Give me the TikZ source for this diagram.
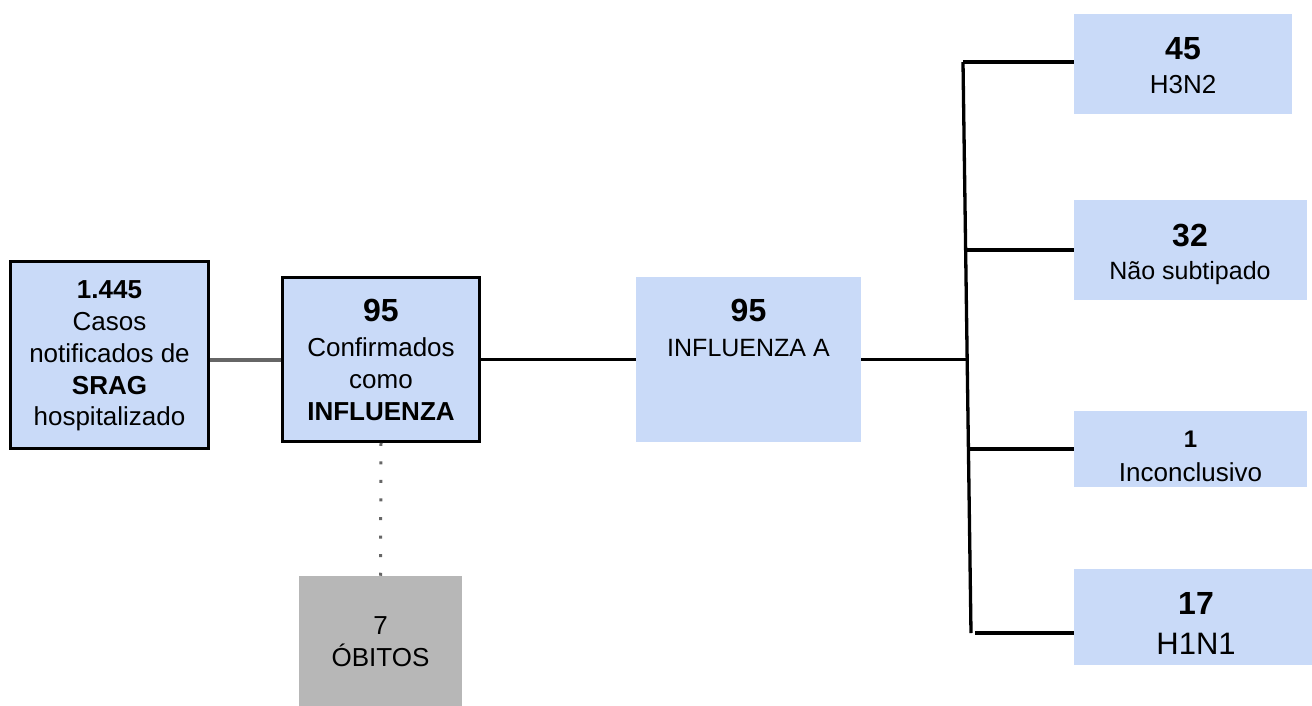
\documentclass[tikz,border=0pt]{standalone}
\usepackage{fontspec}
\setmainfont{Liberation Sans}
\definecolor{boxblue}{HTML}{C9DAF8}
\definecolor{boxgray}{HTML}{B7B7B7}
\definecolor{linegray}{HTML}{666666}
\newcommand\myfs[2]{\fontsize{#1}{#2}\selectfont}
\begin{document}
\begin{tikzpicture}[x=1pt,y=-1pt,
  bluebox/.style={fill=boxblue, draw=black, line width=2.5pt, inner sep=0pt},
  flatbox/.style={fill=boxblue, inner sep=0pt},
  graybox/.style={fill=boxgray, inner sep=0pt},
  txt/.style={align=center, inner sep=0pt, text=black},
  link/.style={line width=3.3pt, black},
  glink/.style={line width=4pt, linegray},
  dotlink/.style={line width=3pt, linegray, dash pattern=on 3pt off 15.57pt}]
\useasboundingbox (0,0) rectangle (1312,705);
% boxes
\node[bluebox, minimum width=198pt, minimum height=187pt] (a) at (109.5,355) {};
\node[txt, font=\myfs{26}{31.75}] (at) at (109.5,356) {{\bfseries 1.445}\\Casos\\notificados de\\{\bfseries SRAG}\\hospitalizado};
\node[bluebox, minimum width=197pt, minimum height=164pt] (b) at (381,359.5) {};
\node[txt, font=\myfs{26}{32}] (bt) at (381,360) {{\myfs{32}{32}\bfseries 95}\\[3pt]Confirmados\\como\\{\bfseries INFLUENZA}};
\node[flatbox, minimum width=225pt, minimum height=165pt] (c) at (748.5,359.5) {};
\node[txt, font=\myfs{25}{32}] (ct) at (748.5,328) {{\myfs{32}{32}\bfseries 95}\\[3pt]INFLUENZA A};
\node[graybox, minimum width=163pt, minimum height=131pt] (ob) at (380.5,641.5) {};
\node[txt, font=\myfs{26}{32}] (obt) at (380.5,641.7) {7\\ÓBITOS};
\node[flatbox, minimum width=218pt, minimum height=100pt] (h3) at (1183,64) {};
\node[txt, font=\myfs{26}{34}] (h3t) at (1183,65.5) {{\myfs{32}{34}\bfseries 45}\\H3N2};
\node[flatbox, minimum width=233pt, minimum height=100pt] (nao) at (1190.5,250) {};
\node[txt, font=\myfs{25}{33}] (naot) at (1190,254.8) {{\myfs{32}{33}\bfseries 32}\\Não subtipado};
\node[flatbox, minimum width=233pt, minimum height=76pt] (inc) at (1190.5,449) {};
\node[txt, font=\myfs{26}{34}] (inct) at (1190.5,456.4) {{\myfs{24}{34}\bfseries 1}\\Inconclusivo};
\node[flatbox, minimum width=244pt, minimum height=96pt] (h1) at (1196,617) {};
\node[txt, font=\myfs{31}{40}] (h1t) at (1196,623.5) {{\myfs{32}{40}\bfseries 17}\\H1N1};
% connectors
\draw[glink] (b.west -| a.east) -- (b.west);
\draw[link] (b.east) -- (c.west);
\coordinate (ttop) at (963,62);
\coordinate (tbot) at (971,633);
\coordinate (tc) at (967.2,359.5);
\coordinate (t2) at (965.6,250);
\coordinate (t3) at (968.4,449);
\coordinate (t4) at (975,633);
\draw[link] (c.east) -- (tc);
\draw[link] (ttop) -- (tbot);
\draw[link] (ttop) -- (ttop -| h3.west);
\draw[link] (t2) -- (t2 -| nao.west);
\draw[link] (t3) -- (t3 -| inc.west);
\draw[link] (t4) -- (t4 -| h1.west);
\draw[dotlink] (b.south) -- (ob.north);
\end{tikzpicture}
\end{document}
